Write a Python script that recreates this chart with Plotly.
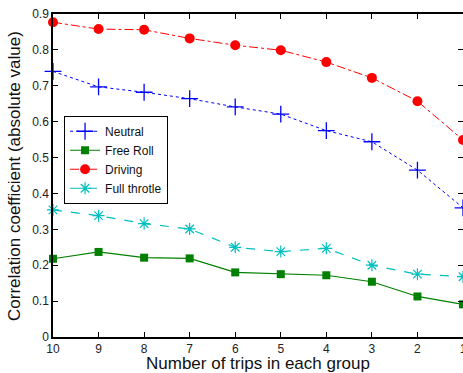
import plotly.graph_objects as go

trips = [10, 9, 8, 7, 6, 5, 4, 3, 2, 1]
neutral = [0.740, 0.697, 0.682, 0.664, 0.641, 0.621, 0.575, 0.544, 0.465, 0.360]
free_roll = [0.218, 0.237, 0.221, 0.219, 0.180, 0.175, 0.172, 0.154, 0.113, 0.091]
driving = [0.877, 0.858, 0.856, 0.832, 0.813, 0.799, 0.766, 0.722, 0.657, 0.549]
full_throtle = [0.354, 0.338, 0.316, 0.301, 0.250, 0.238, 0.247, 0.200, 0.175, 0.168]

fig = go.Figure()
fig.add_trace(go.Scatter(x=trips, y=neutral, name="Neutral", mode="lines+markers",
    line=dict(color="rgb(0,0,255)", width=1, dash="dot"),
    marker=dict(symbol="cross-thin", size=12, line=dict(color="rgb(0,0,255)", width=1.3)),
    cliponaxis=False))
fig.add_trace(go.Scatter(x=trips, y=free_roll, name="Free Roll", mode="lines+markers",
    line=dict(color="rgb(0,128,0)", width=1.2),
    marker=dict(symbol="square", size=8, color="rgb(0,128,0)"),
    cliponaxis=False))
fig.add_trace(go.Scatter(x=trips, y=driving, name="Driving", mode="lines+markers",
    line=dict(color="rgb(255,0,0)", width=1, dash="dashdot"),
    marker=dict(symbol="circle", size=10, color="rgb(255,0,0)"),
    cliponaxis=False))
fig.add_trace(go.Scatter(x=trips, y=full_throtle, name="Full throtle", mode="lines+markers",
    line=dict(color="rgb(0,191,191)", width=1.2, dash="dash"),
    marker=dict(symbol="asterisk-open", size=10, line=dict(color="rgb(0,191,191)", width=1.2)),
    cliponaxis=False))

axis_common = dict(showline=True, linecolor="black", linewidth=1.5, mirror="allticks",
                   ticks="inside", ticklen=5, tickcolor="black", showgrid=False,
                   zeroline=False, automargin=False, ticklabeloverflow="allow",
                   tickfont=dict(family="Liberation Sans, Arial", size=12, color="#222"))

fig.update_layout(
    width=463, height=373,
    margin=dict(l=53, r=0, t=14, b=36),
    paper_bgcolor="white", plot_bgcolor="white",
    font=dict(family="Liberation Sans, Arial", color="#111"),
    xaxis=dict(range=[10, 1], tickvals=trips, ticktext=[str(t) for t in trips],
               **axis_common),
    yaxis=dict(range=[0, 0.9], tickvals=[0, 0.1, 0.2, 0.3, 0.4, 0.5, 0.6, 0.7, 0.8, 0.9],
               ticktext=["0", "0.1", "0.2", "0.3", "0.4", "0.5", "0.6", "0.7", "0.8", "0.9"],
               **axis_common),
    legend=dict(x=0.027, y=0.685, xanchor="left", yanchor="top",
                bgcolor="white", bordercolor="black", borderwidth=1,
                font=dict(size=12, color="#111"), tracegroupgap=0),
    annotations=[
        dict(text="Number of trips in each group", xref="paper", yref="paper",
             x=0.5, y=-0.046, xanchor="center", yanchor="top", showarrow=False,
             font=dict(size=17, color="#111")),
        dict(text="Correlation coefficient (absolute value)", xref="paper", yref="paper",
             x=-0.066, y=0.5, xanchor="right", yanchor="middle", textangle=-90,
             showarrow=False, font=dict(size=17, color="#111")),
    ],
)

fig.write_html("out.html", config={"displayModeBar": False},
               post_script="document.body.style.margin='0';document.body.style.overflow='hidden';")
